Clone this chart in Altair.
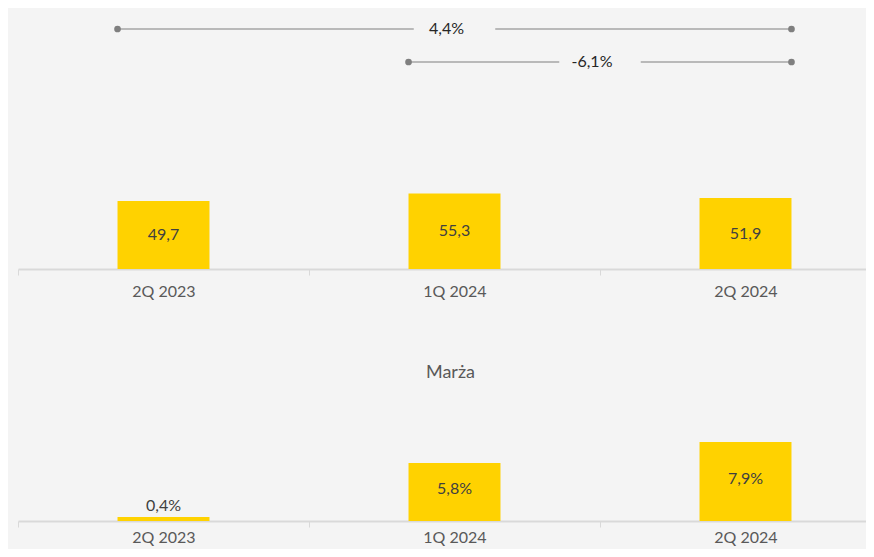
import altair as alt
import pandas as pd

categories = ["2Q 2023", "1Q 2024", "2Q 2024"]
revenue = [49.7, 55.3, 51.9]
margin = [0.4, 5.8, 7.9]
change_from = ["2Q 2023", "1Q 2024"]
change_to = ["2Q 2024", "2Q 2024"]
change_labels = ["4,4%", "-6,1%"]
margin_title = "Marża"

BAR_FRAC = 0.316
GAP = 0.14
FONT = "Lato"
YELLOW = "#FFD200"
BG = "#F4F4F4"
W, H = 848, 541          # visible plot area (page is 874x557 with 8px margin)
XR = [0, 873]            # band range runs past the right edge, as in the reference
TOP_BASE, BOT_BASE = 261, 513


def fmt(v, suffix=""):
    return f"{v:.1f}".replace(".", ",") + suffix


rev_df = pd.DataFrame({"cat": categories, "value": revenue,
                       "label": [fmt(v) for v in revenue]})
mar_df = pd.DataFrame({"cat": categories, "value": margin,
                       "label": [fmt(v, "%") for v in margin]})

seg_rows, dot_rows, lab_rows = [], [], []
for i, (a, b, l) in enumerate(zip(change_from, change_to, change_labels)):
    s = categories.index(a) + (1 - BAR_FRAC) / 2
    e = categories.index(b) + (1 + BAR_FRAC) / 2
    m = (s + e) / 2
    seg_rows += [dict(row=i, x=s, x2=m - GAP), dict(row=i, x=m + GAP, x2=e)]
    dot_rows += [dict(row=i, x=s), dict(row=i, x=e)]
    lab_rows.append(dict(row=i, x=m, label=l))
seg_df = pd.DataFrame(seg_rows)
dot_df = pd.DataFrame(dot_rows)
lab_df = pd.DataFrame(lab_rows)

axis_common = dict(labelAngle=0, tickBand="extent", orient="bottom",
                   labelFont=FONT, labelFontSize=16, labelColor="#595959",
                   domainColor="#D9D9D9", domainWidth=2, tickColor="#D9D9D9",
                   tickSize=6, labelPadding=8, grid=False)

band_scale = dict(paddingInner=0, paddingOuter=0, range=XR)


def xband(axis, title=None):
    return alt.X("cat:N", sort=categories, title=title,
                 scale=alt.Scale(**band_scale), axis=alt.Axis(**axis))


def xplain():
    return alt.X("cat:N", sort=categories, scale=alt.Scale(**band_scale))


# ---------- top panel ----------
top_axis = dict(axis_common, offset=TOP_BASE - H,
                titleFont=FONT, titleFontSize=18, titleFontWeight="normal",
                titleColor="#595959", titleX=432, titleY=103, titleBaseline="middle")
top_scale = alt.Scale(domain=[0, 191], range=[TOP_BASE, 0])
top_bars = alt.Chart(rev_df).mark_bar(color=YELLOW, width=alt.RelativeBandSize(BAR_FRAC)).encode(
    x=xband(top_axis, margin_title), y=alt.Y("value:Q", axis=None, scale=top_scale))
top_text = alt.Chart(rev_df).transform_calculate(mid="datum.value/2").mark_text(
    font=FONT, fontSize=16, color="#404040", baseline="middle").encode(
    x=xplain(), y=alt.Y("mid:Q", axis=None, scale=top_scale), text="label:N")
top_group = alt.layer(top_bars, top_text)

# ---------- change annotations ----------
ax = alt.X("x:Q", axis=None, scale=alt.Scale(domain=[0, 3], nice=False, zero=False, range=XR))
ay = alt.Y("row:O", axis=None, scale=alt.Scale(type="point", range=[21, 54], padding=0))
segs = alt.Chart(seg_df).mark_rule(color="#A6A6A6", strokeWidth=1.5).encode(
    x=ax, x2="x2:Q", y=ay)
dots = alt.Chart(dot_df).mark_circle(color="#7F7F7F", size=45, opacity=1).encode(x=ax, y=ay)
labs = alt.Chart(lab_df).mark_text(font=FONT, fontSize=16, color="#262626", baseline="middle",
                                   dx=-8).encode(x=ax, y=ay, text="label:N")
ann_group = alt.layer(segs, dots, labs)

# ---------- bottom panel ----------
bot_axis = dict(axis_common, offset=BOT_BASE - H, labelPadding=2)
bot_scale = alt.Scale(domain=[0, 13], range=[BOT_BASE, BOT_BASE - 130])
bot_bars = alt.Chart(mar_df).mark_bar(color=YELLOW, width=alt.RelativeBandSize(BAR_FRAC)).encode(
    x=xband(bot_axis), y=alt.Y("value:Q", axis=None, scale=bot_scale))
bot_in = alt.Chart(mar_df).transform_filter("datum.value >= 1").transform_calculate(
    mid="datum.value/2").mark_text(font=FONT, fontSize=16, color="#404040", baseline="middle", dy=-3).encode(
    x=xplain(), y=alt.Y("mid:Q", axis=None, scale=bot_scale), text="label:N")
bot_out = alt.Chart(mar_df).transform_filter("datum.value < 1").mark_text(
    font=FONT, fontSize=16, color="#404040", baseline="bottom", dy=-3).encode(
    x=xplain(), y=alt.Y("value:Q", axis=None, scale=bot_scale), text="label:N")
bot_group = alt.layer(bot_bars, bot_in, bot_out)

chart = alt.layer(top_group, ann_group, bot_group).resolve_scale(
    x="independent", y="independent").resolve_axis(x="independent").properties(
    width=W, height=H,
    background=BG,
    autosize=alt.AutoSizeParams(type="none"),
    padding={"left": 10, "top": 0, "right": 0, "bottom": 0},
).configure_view(stroke=None)

chart.save("out.html", embed_options={"renderer": "svg", "actions": False})
